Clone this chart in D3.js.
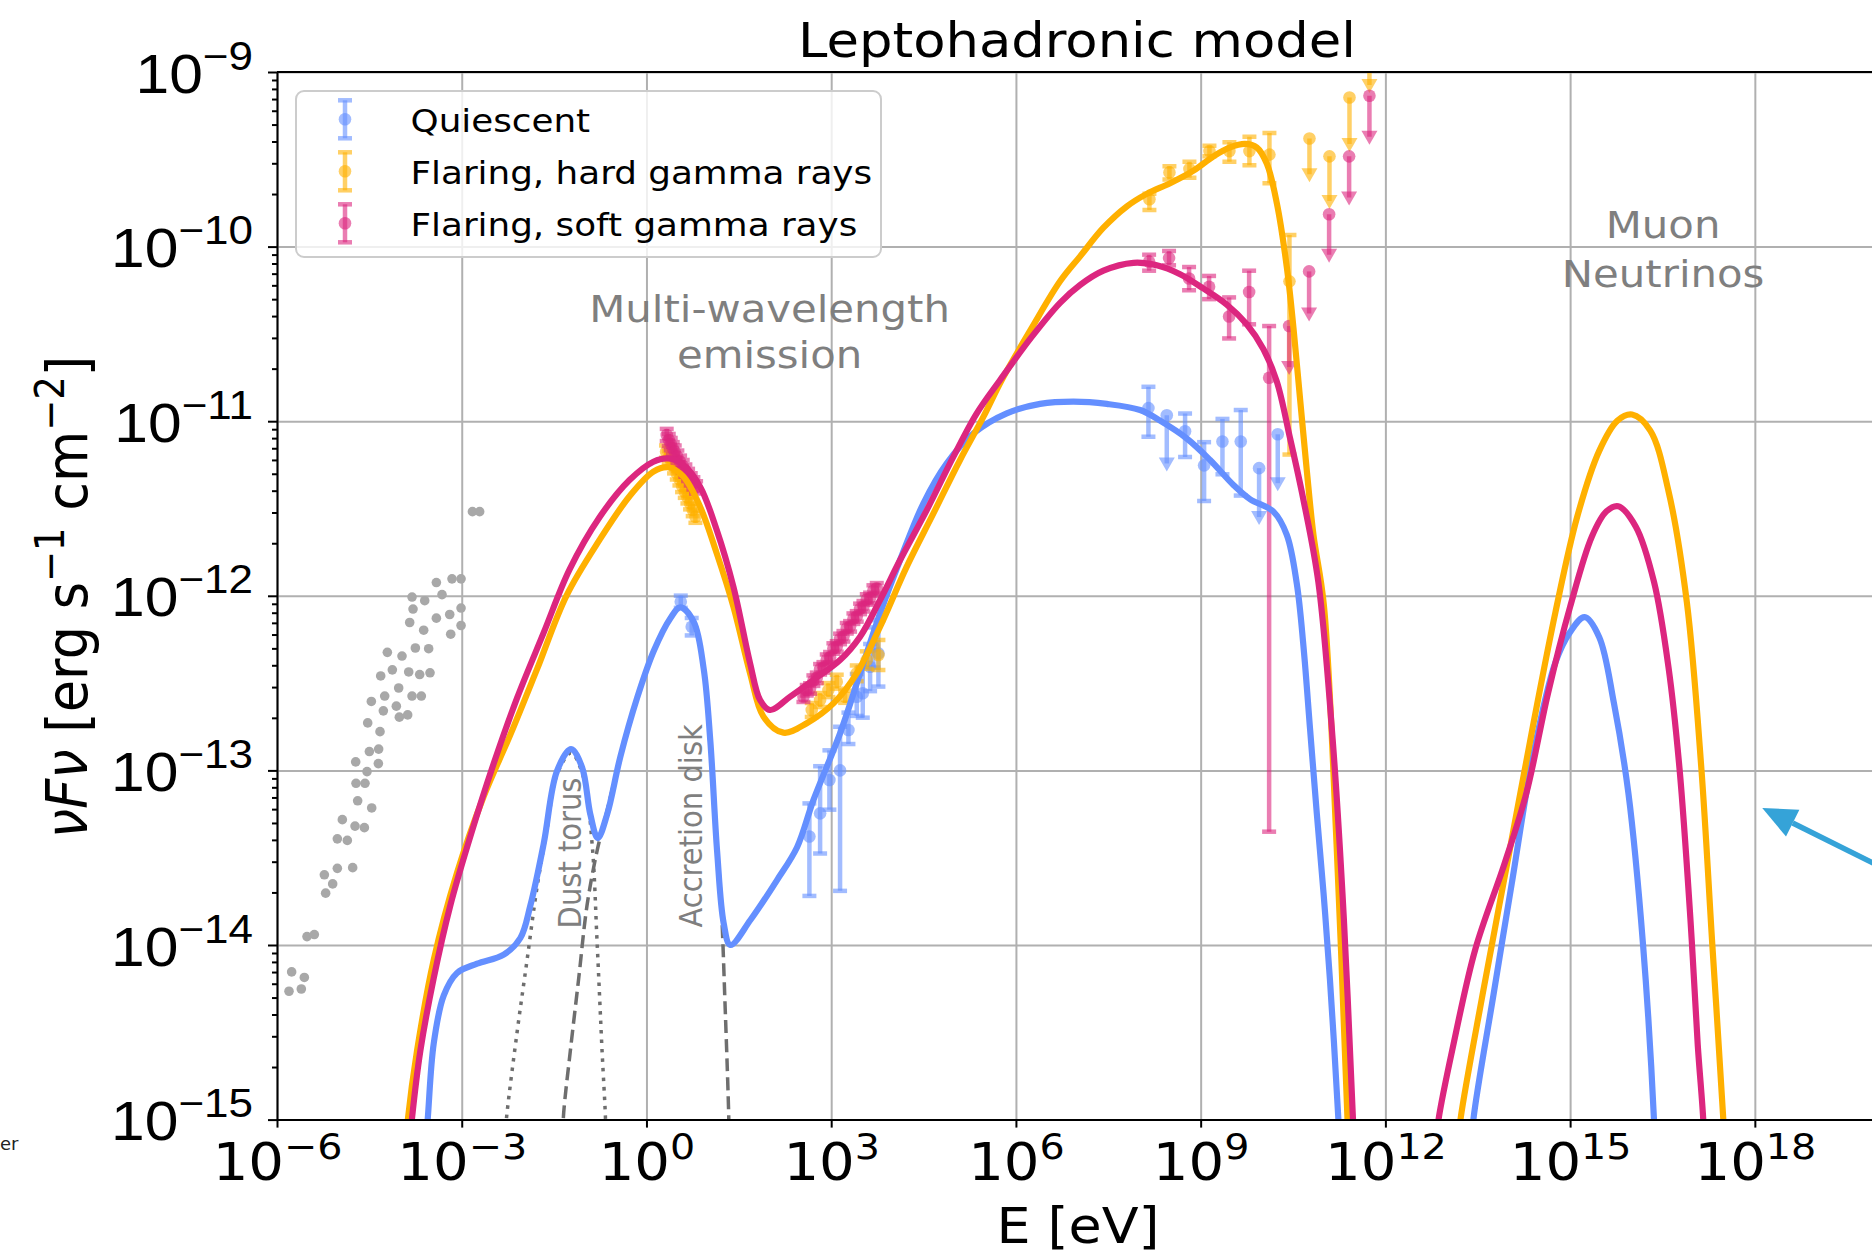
<!DOCTYPE html>
<html>
<head>
<meta charset="utf-8">
<title>Leptohadronic model</title>
<script src="https://cdn.jsdelivr.net/npm/d3@7/dist/d3.min.js"></script>
<style>
  body { margin: 0; background: #fff; }
  svg { display: block; font-family: "DejaVu Sans", sans-serif; }
</style>
</head>
<body>
<svg id="chart" width="1872" height="1257"></svg>
<script>
// all values are log10 E [eV] and log10 nuFnu [erg s-1 cm-2]

// model curves
const quiescentSed = [[-3.6,-15.2],[-3.553,-15.0],[-3.455,-14.565],[-3.293,-14.29],[-3.076,-14.16],[-2.75,-14.107],[-2.318,-14.055],[-2.048,-13.96],[-1.885,-13.773],[-1.669,-13.42],[-1.452,-13.003],[-1.225,-12.878],[-1.046,-12.982],[-0.911,-13.253],[-0.791,-13.388],[-0.64,-13.253],[-0.423,-12.92],[-0.153,-12.586],[0.118,-12.316],[0.389,-12.128],[0.551,-12.066],[0.768,-12.149],[0.93,-12.42],[1.038,-12.836],[1.147,-13.461],[1.255,-13.877],[1.363,-14.0],[1.688,-13.857],[2.121,-13.628],[2.446,-13.44],[2.711,-13.17],[3.144,-12.788],[3.469,-12.444],[3.794,-12.1],[4.119,-11.795],[4.498,-11.47],[4.877,-11.241],[5.31,-11.07],[5.851,-10.955],[6.393,-10.901],[6.934,-10.888],[7.476,-10.901],[8.017,-10.936],[8.341,-10.997],[8.774,-11.099],[9.153,-11.222],[9.532,-11.365],[9.803,-11.447],[10.182,-11.518],[10.399,-11.651],[10.561,-11.93],[10.67,-12.291],[10.778,-12.769],[10.886,-13.246],[10.995,-13.7],[11.1,-14.2],[11.237,-15.0],[11.26,-15.2]];
const quiescentNu = [[13.39,-15.2],[13.429,-15.0],[13.755,-14.286],[14.051,-13.651],[14.406,-12.901],[14.762,-12.381],[14.999,-12.208],[15.236,-12.122],[15.473,-12.237],[15.71,-12.612],[15.947,-13.132],[16.184,-13.997],[16.362,-15.0],[16.38,-15.2]];

const hardSed = [[-3.92,-15.2],[-3.872,-14.99],[-3.726,-14.606],[-3.455,-14.086],[-3.076,-13.586],[-2.643,-13.149],[-2.21,-12.795],[-1.777,-12.42],[-1.3,-12.0],[-0.762,-11.68],[-0.275,-11.43],[0.113,-11.289],[0.356,-11.264],[0.6,-11.318],[0.871,-11.49],[1.141,-11.757],[1.412,-12.062],[1.683,-12.444],[1.9,-12.692],[2.224,-12.784],[2.603,-12.73],[3.036,-12.616],[3.415,-12.444],[3.794,-12.177],[4.227,-11.833],[4.66,-11.528],[5.093,-11.222],[5.473,-10.974],[5.77,-10.764],[6.25,-10.47],[6.717,-10.199],[7.042,-10.056],[7.421,-9.892],[7.8,-9.77],[8.125,-9.698],[8.504,-9.637],[8.883,-9.565],[9.208,-9.483],[9.478,-9.432],[9.722,-9.412],[9.911,-9.432],[10.074,-9.524],[10.236,-9.749],[10.399,-10.117],[10.507,-10.465],[10.615,-10.874],[10.724,-11.283],[10.832,-11.651],[11.0,-12.05],[11.207,-13.42],[11.385,-15.0],[11.41,-15.2]];
const hardNu = [[13.16,-15.2],[13.222,-14.993],[13.577,-14.286],[13.992,-13.507],[14.406,-12.728],[14.762,-12.093],[15.117,-11.545],[15.473,-11.17],[15.769,-10.997],[16.006,-10.962],[16.302,-11.054],[16.598,-11.401],[16.895,-12.035],[17.131,-12.987],[17.309,-13.997],[17.487,-14.993],[17.51,-15.2]];

const softSed = [[-3.86,-15.2],[-3.807,-14.991],[-3.672,-14.606],[-3.455,-14.19],[-3.185,-13.773],[-2.86,-13.378],[-2.481,-12.961],[-2.102,-12.586],[-1.669,-12.211],[-1.25,-11.85],[-0.762,-11.55],[-0.275,-11.337],[0.113,-11.232],[0.356,-11.213],[0.6,-11.251],[0.871,-11.375],[1.141,-11.623],[1.412,-11.948],[1.683,-12.387],[1.845,-12.597],[2.007,-12.654],[2.332,-12.578],[2.711,-12.482],[3.144,-12.368],[3.469,-12.234],[3.794,-12.024],[4.119,-11.795],[4.552,-11.509],[4.985,-11.203],[5.364,-10.955],[5.743,-10.764],[6.25,-10.52],[6.717,-10.322],[7.042,-10.22],[7.421,-10.138],[7.908,-10.093],[8.287,-10.107],[8.666,-10.158],[9.045,-10.24],[9.424,-10.332],[9.749,-10.445],[10.02,-10.588],[10.236,-10.772],[10.453,-11.099],[10.669,-11.45],[10.911,-11.92],[11.148,-12.843],[11.326,-13.853],[11.474,-15.0],[11.5,-15.2]];
const softNu = [[12.8,-15.2],[12.866,-14.993],[13.103,-14.574],[13.459,-14.026],[13.933,-13.536],[14.288,-13.132],[14.643,-12.555],[14.999,-12.064],[15.354,-11.66],[15.591,-11.516],[15.781,-11.487],[16.065,-11.603],[16.362,-11.92],[16.598,-12.41],[16.776,-12.987],[16.954,-13.853],[17.073,-14.574],[17.161,-14.993],[17.18,-15.2]];

// thermal components of the quiescent model
const dustTorus = [[-2.3,-15.1],[-2.264,-14.96],[-2.102,-14.502],[-1.939,-14.086],[-1.777,-13.669],[-1.615,-13.336],[-1.452,-13.024],[-1.225,-12.9],[-1.019,-13.044],[-0.883,-13.42],[-0.802,-13.982],[-0.721,-14.606],[-0.667,-14.981],[-0.66,-15.1]];
const accretionDisk = [[-1.36,-15.1],[-1.344,-14.96],[-1.236,-14.606],[-1.1,-14.19],[-0.965,-13.773],[-0.802,-13.461],[-0.64,-13.232],[-0.423,-12.92],[-0.153,-12.586],[0.118,-12.316],[0.389,-12.128],[0.551,-12.066],[0.768,-12.149],[0.93,-12.42],[1.038,-12.836],[1.147,-13.461],[1.2,-13.67],[1.282,-14.398],[1.336,-14.981],[1.34,-15.1]];

// archival points (grey)
const archival = [[-3.011,-11.903],[-3.158,-11.903],[-3.412,-11.924],[-3.320,-11.993],[-3.807,-12.007],[-3.601,-12.028],[-3.791,-12.076],[-3.011,-12.070],[-3.412,-12.128],[-3.195,-12.107],[-3.845,-12.153],[-3.618,-12.197],[-3.011,-12.170],[-3.179,-12.220],[-4.208,-12.324],[-3.970,-12.345],[-3.753,-12.299],[-3.537,-12.303],[-4.127,-12.424],[-3.861,-12.436],[-3.683,-12.451],[-3.515,-12.441],[-4.316,-12.459],[-4.024,-12.528],[-4.251,-12.574],[-3.807,-12.574],[-3.656,-12.574],[-4.468,-12.605],[-4.062,-12.632],[-4.273,-12.659],[-4.013,-12.695],[-3.878,-12.682],[-4.527,-12.728],[-4.327,-12.778],[-4.722,-12.951],[-4.500,-12.892],[-4.349,-12.878],[-4.354,-12.961],[-4.538,-13.007],[-4.717,-13.074],[-4.571,-13.074],[-4.690,-13.174],[-4.462,-13.215],[-4.939,-13.282],[-4.733,-13.319],[-4.581,-13.328],[-5.020,-13.392],[-4.858,-13.401],[-5.231,-13.598],[-5.020,-13.561],[-4.771,-13.557],[-5.096,-13.650],[-5.210,-13.703],[-5.513,-13.952],[-5.394,-13.940],[-5.762,-14.154],[-5.556,-14.186],[-5.805,-14.265],[-5.605,-14.252],[-2.826,-11.518],[-2.709,-11.518]];

// measurements: [logE, logF, err down, err up] in dex; upper limits: [logE, logF, arrow length]
const quiescentPts = [[0.557,-12.034,0.035,0.035],[0.735,-12.177,0.05,0.05],
  [2.646,-13.379,0.34,0.19],[2.82,-13.246,0.23,0.27],[2.971,-13.055,0.17,0.17],[3.144,-13.0,0.69,0.25],[3.28,-12.769,0.08,0.10],[3.415,-12.578,0.11,0.13],[3.513,-12.558,0.14,0.15],[3.632,-12.406,0.14,0.13],[3.686,-12.291,0.12,0.11],[3.767,-12.33,0.19,0.19],
  [8.152,-10.925,0.164,0.122],[8.747,-11.058,0.147,0.102],[9.056,-11.253,0.204,0.133],[9.354,-11.116,0.188,0.129],[9.651,-11.116,0.31,0.18]];
const quiescentUL = [[8.45,-10.966,0.276],[9.949,-11.269,0.28],[10.252,-11.075,0.28]];

const hardPts = [[0.318,-11.174,0.035,0.035],[0.362,-11.207,0.035,0.035],[0.405,-11.232,0.035,0.035],[0.448,-11.264,0.035,0.035],[0.492,-11.299,0.035,0.035],[0.535,-11.333,0.035,0.035],[0.578,-11.371,0.035,0.035],[0.622,-11.404,0.035,0.035],[0.665,-11.436,0.035,0.035],[0.708,-11.47,0.035,0.035],[0.751,-11.509,0.035,0.035],[0.795,-11.547,0.035,0.035],
  [2.684,-12.654,0.04,0.04],[2.82,-12.597,0.04,0.04],[2.955,-12.54,0.04,0.04],[3.09,-12.492,0.04,0.04],[3.226,-12.578,0.035,0.035],[3.415,-12.444,0.045,0.045],[3.578,-12.368,0.05,0.05],[3.767,-12.339,0.086,0.086],
  [8.168,-9.729,0.061,0.031],[8.493,-9.575,0.041,0.035],[8.818,-9.555,0.051,0.041],[9.143,-9.453,0.03,0.031],[9.467,-9.453,0.061,0.051],[9.792,-9.453,0.081,0.082],[10.117,-9.473,0.164,0.123],[10.442,-10.199,0.992,0.266]];
const hardUL = [[10.767,-9.381,0.205],[11.092,-9.483,0.256],[11.417,-9.146,0.266],[11.741,-8.82,0.254]];

const softPts = [[0.329,-11.079,0.035,0.035],[0.362,-11.108,0.035,0.035],[0.394,-11.131,0.035,0.035],[0.427,-11.155,0.035,0.035],[0.459,-11.174,0.035,0.035],[0.502,-11.203,0.035,0.035],[0.546,-11.232,0.035,0.035],[0.589,-11.257,0.035,0.035],[0.632,-11.283,0.035,0.035],[0.676,-11.308,0.035,0.035],[0.719,-11.333,0.035,0.035],[0.762,-11.356,0.035,0.035],[0.806,-11.379,0.035,0.035],
  [2.549,-12.578,0.03,0.03],[2.603,-12.541,0.03,0.03],[2.657,-12.531,0.03,0.03],[2.711,-12.486,0.03,0.03],[2.766,-12.47,0.03,0.03],[2.82,-12.421,0.03,0.03],[2.874,-12.41,0.03,0.03],[2.928,-12.366,0.03,0.03],[2.982,-12.352,0.03,0.03],[3.036,-12.302,0.03,0.03],[3.09,-12.29,0.03,0.03],[3.144,-12.247,0.03,0.03],[3.199,-12.232,0.03,0.03],[3.253,-12.186,0.03,0.03],[3.307,-12.175,0.03,0.03],[3.361,-12.131,0.03,0.03],[3.415,-12.118,0.03,0.03],[3.469,-12.075,0.03,0.03],[3.524,-12.06,0.03,0.03],[3.578,-12.021,0.03,0.03],[3.632,-12.012,0.03,0.03],[3.686,-11.97,0.03,0.03],[3.74,-11.957,0.03,0.03],
  [8.163,-10.087,0.051,0.041],[8.487,-10.066,0.041,0.041],[8.812,-10.183,0.067,0.066],[9.137,-10.23,0.071,0.062],[9.462,-10.4,0.126,0.109],[9.787,-10.26,0.185,0.122],[10.112,-10.751,2.6,0.296]];
const softUL = [[10.437,-10.455,0.235],[10.761,-10.142,0.241],[11.086,-9.815,0.231],[11.411,-9.483,0.236],[11.741,-9.136,0.235]];

const seriesNames = ['Quiescent', 'Flaring, hard gamma rays', 'Flaring, soft gamma rays'];
const seriesColors = ['#648FFF', '#FFB000', '#DC267F'];

const tickExpX = [-6, -3, 0, 3, 6, 9, 12, 15, 18];
const tickExpY = [-15, -14, -13, -12, -11, -10, -9];

const W = 1872, H = 1257;
const SX = 1.1;          // the reference text is slightly wider than tall
const A = 0.6;           // alpha of the measurements

const x = d3.scaleLog().domain([1e-6, 1e20]).range([277, 1878]);
const y = d3.scaleLog().domain([1e-15, 1e-9]).range([1119.6, 72]);
const X = v => x(Math.pow(10, v));
const Y = v => y(Math.pow(10, v));
const pw = x.range()[1] - x.range()[0], ph = y.range()[0] - y.range()[1];

const svg = d3.select('#chart');
svg.append('defs').append('clipPath').attr('id', 'plotclip')
  .append('rect').attr('x', x.range()[0]).attr('y', y.range()[1]).attr('width', pw).attr('height', ph);

// grid
const grid = svg.append('g').attr('stroke', '#b0b0b0');
grid.append('g').attr('transform', `translate(0,${y.range()[0]})`)
  .call(d3.axisBottom(x).tickValues(tickExpX.map(e => Math.pow(10, e))).tickSize(-ph).tickFormat(''));
grid.append('g').attr('transform', `translate(${x.range()[0]},0)`)
  .call(d3.axisLeft(y).tickValues(tickExpY.map(e => Math.pow(10, e))).tickSize(-pw).tickFormat(''));
grid.selectAll('.domain').remove();
grid.selectAll('line').attr('stroke', '#b0b0b0').attr('stroke-width', 2);

const plot = svg.append('g').attr('clip-path', 'url(#plotclip)');

// archival points
plot.append('g').selectAll('circle').data(archival).join('circle')
  .attr('cx', d => X(d[0])).attr('cy', d => Y(d[1])).attr('r', 4.8).attr('fill', '#a8a8a8');

// thermal components
const line = d3.line().x(d => X(d[0])).y(d => Y(d[1])).curve(d3.curveCatmullRom.alpha(0.5));
plot.append('path').attr('d', line(dustTorus)).attr('fill', 'none').attr('stroke', '#6e6e6e')
  .attr('stroke-width', 3.5).attr('stroke-dasharray', '3.5,6');
plot.append('path').attr('d', line(accretionDisk)).attr('fill', 'none').attr('stroke', '#6e6e6e')
  .attr('stroke-width', 3.5).attr('stroke-dasharray', '13,6');

function errorbars(g, pts, uls, color) {
  const e = g.append('g').attr('stroke', color).attr('stroke-opacity', A).attr('stroke-width', 4.5);
  e.selectAll('.bar').data(pts).join('line').attr('class', 'bar')
    .attr('x1', d => X(d[0])).attr('x2', d => X(d[0]))
    .attr('y1', d => Y(d[1] - d[2])).attr('y2', d => Y(d[1] + d[3]));
  e.selectAll('.capl').data(pts).join('line').attr('class', 'capl')
    .attr('x1', d => X(d[0]) - 7).attr('x2', d => X(d[0]) + 7)
    .attr('y1', d => Y(d[1] - d[2])).attr('y2', d => Y(d[1] - d[2]));
  e.selectAll('.caph').data(pts).join('line').attr('class', 'caph')
    .attr('x1', d => X(d[0]) - 7).attr('x2', d => X(d[0]) + 7)
    .attr('y1', d => Y(d[1] + d[3])).attr('y2', d => Y(d[1] + d[3]));
  e.selectAll('.ul').data(uls).join('line').attr('class', 'ul')
    .attr('x1', d => X(d[0])).attr('x2', d => X(d[0]))
    .attr('y1', d => Y(d[1])).attr('y2', d => Y(d[1] - d[2]));
  const f = g.append('g').attr('fill', color).attr('fill-opacity', A);
  f.selectAll('path').data(uls).join('path')
    .attr('d', d => { const cx = X(d[0]), cy = Y(d[1] - d[2]);
      return `M${cx - 8},${cy - 6}L${cx + 8},${cy - 6}L${cx},${cy + 8}Z`; });
  f.selectAll('circle').data(pts.concat(uls)).join('circle')
    .attr('cx', d => X(d[0])).attr('cy', d => Y(d[1])).attr('r', 6.3);
}
errorbars(plot, quiescentPts, quiescentUL, seriesColors[0]);
errorbars(plot, hardPts, hardUL, seriesColors[1]);
errorbars(plot, softPts, softUL, seriesColors[2]);

// model curves
[[quiescentSed, quiescentNu], [hardSed, hardNu], [softSed, softNu]].forEach((c, i) => {
  c.forEach(seg => plot.append('path').attr('d', line(seg)).attr('fill', 'none')
    .attr('stroke', seriesColors[i]).attr('stroke-width', 6.2).attr('stroke-linejoin', 'round'));
});

// text helper, stretched like the reference
function stext(g, px, py, size, rot) {
  return g.append('text')
    .attr('transform', `translate(${px},${py}) scale(${SX},1)` + (rot ? ` rotate(${rot})` : ''))
    .attr('font-size', size);
}

// annotations
const gray = '#7f7f7f';
const mw = stext(svg, X(2.0), Y(-10.43), 38).attr('text-anchor', 'middle').attr('fill', gray);
mw.append('tspan').attr('x', 0).text('Multi-wavelength');
mw.append('tspan').attr('x', 0).attr('dy', 46.6).text('emission');
const mn = stext(svg, X(16.51), Y(-9.952), 38).attr('text-anchor', 'middle').attr('fill', gray);
mn.append('tspan').attr('x', 0).text('Muon');
mn.append('tspan').attr('x', 0).attr('dy', 48.4).text('Neutrinos');
stext(svg, X(-1.063), Y(-13.473), 29, -90).attr('text-anchor', 'middle').attr('fill', gray).text('Dust torus');
stext(svg, X(0.903), Y(-13.318), 29, -90).attr('text-anchor', 'middle').attr('fill', gray).text('Accretion disk');

// arrow pointing at the neutrino band
const arrow = [[20.03, -13.55], [18.12, -13.215]];
{
  const [x0, y0] = [X(arrow[0][0]), Y(arrow[0][1])], [x1, y1] = [X(arrow[1][0]), Y(arrow[1][1])];
  const L = Math.hypot(x0 - x1, y0 - y1), ux = (x0 - x1) / L, uy = (y0 - y1) / L;
  const bx = x1 + 34 * ux, by = y1 + 34 * uy;
  svg.append('line').attr('x1', x0).attr('y1', y0).attr('x2', bx).attr('y2', by)
    .attr('stroke', '#35a3d8').attr('stroke-width', 5.5);
  svg.append('path').attr('fill', '#35a3d8')
    .attr('d', `M${x1},${y1}L${bx - 15 * uy},${by + 15 * ux}L${bx + 15 * uy},${by - 15 * ux}Z`);
}

// legend
const lg = svg.append('g');
lg.append('rect').attr('x', 296).attr('y', 91).attr('width', 585).attr('height', 166).attr('rx', 8)
  .attr('fill', '#fff').attr('fill-opacity', 0.8).attr('stroke', '#cccccc').attr('stroke-width', 2);
seriesNames.forEach((name, i) => {
  const ry = 119.3 + i * 52;
  const g = lg.append('g').attr('stroke', seriesColors[i]).attr('stroke-opacity', A).attr('stroke-width', 4.5);
  g.append('line').attr('x1', 345).attr('x2', 345).attr('y1', ry - 19).attr('y2', ry + 19);
  g.append('line').attr('x1', 338).attr('x2', 352).attr('y1', ry - 19).attr('y2', ry - 19);
  g.append('line').attr('x1', 338).attr('x2', 352).attr('y1', ry + 19).attr('y2', ry + 19);
  lg.append('circle').attr('cx', 345).attr('cy', ry).attr('r', 6.3).attr('fill', seriesColors[i]).attr('fill-opacity', A);
  stext(lg, 410.5, ry + 12.5, 32.5).text(name);
});

// axes
const minor = [];
for (let e = -15; e < -9; e++) for (let k = 2; k < 10; k++) minor.push(k * Math.pow(10, e));
const sup = e => (e < 0 ? '\u2212' + (-e) : String(e));

const ay = svg.append('g').attr('transform', `translate(${x.range()[0]},0)`);
ay.append('g').call(d3.axisLeft(y).tickValues(minor).tickSize(5).tickFormat(''))
  .call(g => g.select('.domain').remove());
ay.append('g').call(d3.axisLeft(y).tickValues(tickExpY.map(e => Math.pow(10, e))).tickSize(9).tickSizeOuter(0).tickPadding(15))
  .call(g => g.selectAll('.tick text').each(function (d) {
    const t = d3.select(this).text('').attr('x', null).attr('dy', null)
      .attr('transform', `translate(-24,20) scale(${SX},1)`).attr('font-size', 55).attr('fill', '#000');
    t.append('tspan').text('10');
    t.append('tspan').attr('font-size', 40).attr('dy', -23).text(sup(Math.round(Math.log10(d))));
  }));
ay.selectAll('line').attr('stroke', '#000').attr('stroke-width', 2);
ay.selectAll('.domain').attr('stroke', '#000').attr('stroke-width', 2);
ay.attr('font-family', null);

const ax = svg.append('g').attr('transform', `translate(0,${y.range()[0]})`);
ax.call(d3.axisBottom(x).tickValues(tickExpX.map(e => Math.pow(10, e))).tickSize(8).tickSizeOuter(0))
  .call(g => g.selectAll('.tick text').each(function (d) {
    const t = d3.select(this).text('').attr('y', null).attr('dy', null)
      .attr('transform', `translate(0,60.4) scale(${SX},1)`).attr('font-size', 51).attr('fill', '#000');
    t.append('tspan').text('10');
    t.append('tspan').attr('font-size', 36).attr('dy', -21).text(sup(Math.round(Math.log10(d))));
  }));
ax.selectAll('line').attr('stroke', '#000').attr('stroke-width', 2);
ax.selectAll('.domain').attr('stroke', '#000').attr('stroke-width', 2);
ax.attr('font-family', null);

// top spine
svg.append('line').attr('x1', x.range()[0]).attr('x2', x.range()[1]).attr('y1', y.range()[1]).attr('y2', y.range()[1])
  .attr('stroke', '#000').attr('stroke-width', 2);

// labels
stext(svg, 1077, 57, 48).attr('text-anchor', 'middle').text('Leptohadronic model');
stext(svg, 1078, 1243, 49).attr('text-anchor', 'middle').text('E [eV]');
const yl = stext(svg, 87, 597, 52.5, -90).attr('text-anchor', 'middle');
yl.append('tspan').attr('font-style', 'italic').text('\u03BDF\u03BD');
yl.append('tspan').text(' [erg s');
yl.append('tspan').attr('font-size', 37).attr('dy', -21).text('\u22121');
yl.append('tspan').attr('dy', 21).text(' cm');
yl.append('tspan').attr('font-size', 37).attr('dy', -21).text('\u22122');
yl.append('tspan').attr('dy', 21).text(']');

// text left of the figure (from a neighbouring panel)
svg.append('text').attr('x', 0).attr('y', 1150).attr('font-size', 18)
  .attr('fill', '#222').text('er');
</script>
</body>
</html>
